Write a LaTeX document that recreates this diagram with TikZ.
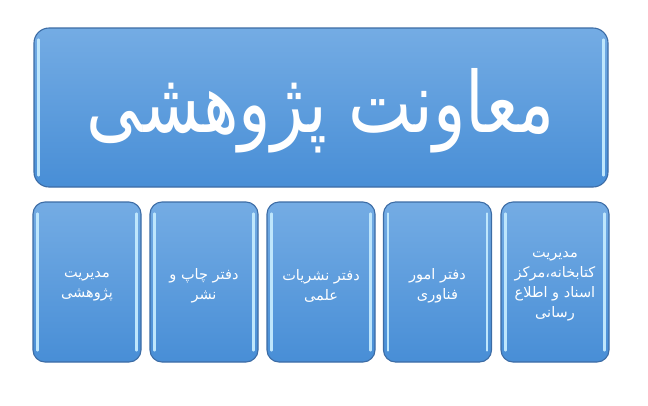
\documentclass[tikz,border=0pt]{standalone}
\usepackage{fontspec}
\newfontfamily\arabicfont[Script=Arabic]{DejaVu Sans}
\TeXXeTstate=1
\usetikzlibrary{calc}
\definecolor{boxtop}{RGB}{116,172,228}
\definecolor{boxbot}{RGB}{72,142,214}
\definecolor{boxedge}{RGB}{60,108,165}
\definecolor{glint}{RGB}{190,230,252}
\tikzset{
  bluebox/.style={draw=boxedge, line width=1.1pt, rounded corners=12pt,
    top color=boxtop, bottom color=boxbot, inner sep=0pt},
  smallbox/.style={bluebox, minimum width=108pt, minimum height=160pt},
  boxtext/.style={text=white, align=center, inner sep=0pt,
    font=\arabicfont\fontsize{14.5}{20}\selectfont},
  glintline/.style={glint, line width=2.2pt, line cap=round},
}
\begin{document}
\begin{tikzpicture}[x=1pt,y=-1pt]
\useasboundingbox (0,0) rectangle (648,405);
\node[bluebox, minimum width=574pt, minimum height=159pt, rounded corners=15pt] (head) at (321,107.5) {};
\node[smallbox] (b1) at (87,282) {};
\node[smallbox] (b2) at (204,282) {};
\node[smallbox] (b3) at (321,282) {};
\node[smallbox] (b4) at (437.5,282) {};
\node[smallbox] (b5) at (555,282) {};
\foreach \n in {head,b1,b2,b3,b4,b5}{
  \draw[glintline] ($(\n.north west)+(5,12)$) -- ($(\n.south west)+(5,-12)$);
  \draw[glintline] ($(\n.north east)+(-5,12)$) -- ($(\n.south east)+(-5,-12)$);
}
\node[text=white, inner sep=0pt, font=\arabicfont] (headt) at ($(head.center)+(0,3)$)
  {\resizebox{468pt}{64pt}{\beginR معاونت پژوهشی\endR}};
\node[boxtext] (t1) at ($(b1.center)+(0,4)$) {\beginR مدیریت\endR\\\beginR پژوهشی\endR};
\node[boxtext] (t2) at ($(b2.center)+(0,4)$) {\beginR دفتر چاپ و\endR\\\beginR نشر\endR};
\node[boxtext] (t3) at ($(b3.center)+(0,4)$) {\beginR دفتر نشریات\endR\\\beginR علمی\endR};
\node[boxtext] (t4) at ($(b4.center)+(0,4)$) {\beginR دفتر امور\endR\\\beginR فناوری\endR};
\node[boxtext] (t5) at ($(b5.center)+(0,4)$) {\beginR مدیریت\endR\\\beginR کتابخانه،مرکز\endR\\\beginR اسناد و اطلاع\endR\\\beginR رسانی\endR};
\end{tikzpicture}
\end{document}
